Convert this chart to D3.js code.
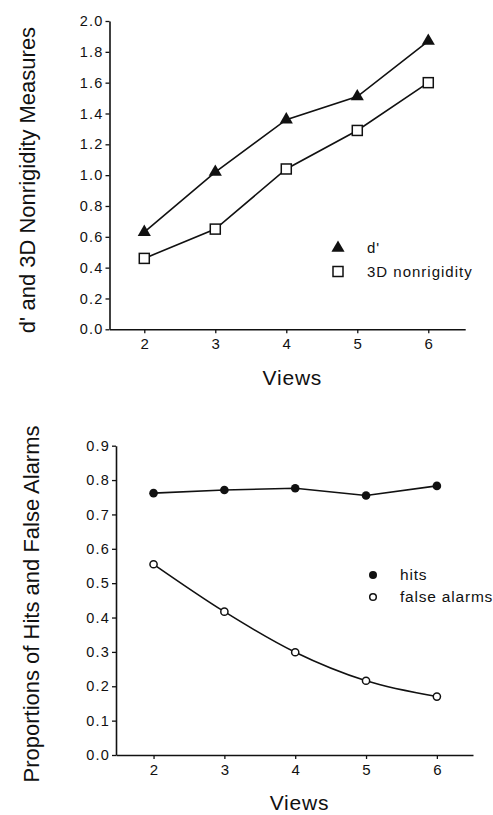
<!DOCTYPE html>
<html>
<head>
<meta charset="utf-8">
<script src="https://cdn.jsdelivr.net/npm/d3@7"></script>
<style>
  html, body { margin: 0; padding: 0; background: #fff; }
  svg { display: block; }
  text { font-family: "Liberation Sans", Arial, Helvetica, sans-serif; fill: #111; }
</style>
</head>
<body>
<svg id="chart" width="493" height="815"></svg>
<script>
// ---- Data ----
const views = [2, 3, 4, 5, 6];
const dPrime = [0.63, 1.02, 1.36, 1.51, 1.87];
const nonrigidity = [0.46, 0.65, 1.04, 1.29, 1.60];
const hits = [0.762, 0.771, 0.776, 0.755, 0.783];
const falseAlarms = [0.555, 0.417, 0.299, 0.216, 0.170];
const topYTicks = [0.0, 0.2, 0.4, 0.6, 0.8, 1.0, 1.2, 1.4, 1.6, 1.8, 2.0];
const botYTicks = [0.0, 0.1, 0.2, 0.3, 0.4, 0.5, 0.6, 0.7, 0.8, 0.9];
const xTicks = [2, 3, 4, 5, 6];

const svg = d3.select("#chart");
const ink = "#111";

function drawPanel(cfg) {
  const g = svg.append("g");
  const x = d3.scaleLinear().domain(cfg.xDomain).range(cfg.xRange);
  const y = d3.scaleLinear().domain(cfg.yDomain).range(cfg.yRange);

  // y axis
  const yAxis = d3.axisLeft(y).tickValues(cfg.yTicks).tickFormat(d3.format(".1f"))
    .tickSizeInner(4).tickSizeOuter(0).tickPadding(2);
  const ya = g.append("g").attr("transform", `translate(${cfg.xRange[0]},0)`).call(yAxis);
  ya.select(".domain").attr("stroke", ink).attr("stroke-width", 1.6);
  ya.selectAll(".tick line").attr("stroke", ink).attr("stroke-width", 1.3);
  ya.selectAll(".tick text").attr("font-size", 14.5).attr("letter-spacing", "1.2px")
    .attr("fill", ink).attr("font-family", "Liberation Sans, Arial, sans-serif");

  // x axis
  const xAxis = d3.axisBottom(x).tickValues(cfg.xTicks).tickFormat(d3.format("d"))
    .tickSizeInner(4).tickSizeOuter(0).tickPadding(5);
  const xa = g.append("g").attr("transform", `translate(0,${cfg.yRange[0]})`).call(xAxis);
  xa.select(".domain").attr("stroke", ink).attr("stroke-width", 1.6);
  xa.selectAll(".tick line").attr("stroke", ink).attr("stroke-width", 1.3);
  xa.selectAll(".tick text").attr("font-size", 15).attr("fill", ink)
    .attr("font-family", "Liberation Sans, Arial, sans-serif");

  // x title
  g.append("text").attr("x", (cfg.xRange[0] + cfg.xRange[1]) / 2 + 5).attr("y", cfg.xTitleY)
    .attr("text-anchor", "middle").attr("font-size", 21).attr("letter-spacing", "0.8px")
    .text("Views");

  // y title
  g.append("text")
    .attr("transform", `translate(${cfg.yTitleX},${cfg.yTitleCenter}) rotate(-90)`)
    .attr("text-anchor", "middle").attr("font-size", 22)
    .text(cfg.yTitle);

  return { g, x, y };
}

// ---- Top panel ----
const topP = drawPanel({
  xDomain: [1.51, 6.52], xRange: [109.5, 465.2],
  yDomain: [0, 2.0], yRange: [329.3, 21],
  yTicks: topYTicks, xTicks: xTicks,
  xTitleY: 385, yTitleX: 35, yTitleCenter: 180,
  yTitle: "d' and 3D Nonrigidity Measures"
});

const lineT = d3.line().x((d, i) => topP.x(views[i])).y(d => topP.y(d));
topP.g.append("path").datum(dPrime).attr("d", lineT).attr("fill", "none")
  .attr("stroke", ink).attr("stroke-width", 1.6);
topP.g.append("path").datum(nonrigidity).attr("d", lineT).attr("fill", "none")
  .attr("stroke", ink).attr("stroke-width", 1.6);

const tri = d3.symbol().type(d3.symbolTriangle).size(75);
topP.g.selectAll(".tri").data(dPrime).join("path")
  .attr("transform", (d, i) => `translate(${topP.x(views[i])},${topP.y(d)})`)
  .attr("d", tri).attr("fill", ink);
topP.g.selectAll(".sq").data(nonrigidity).join("rect")
  .attr("x", (d, i) => topP.x(views[i]) - 5).attr("y", d => topP.y(d) - 5)
  .attr("width", 10).attr("height", 10)
  .attr("fill", "#fff").attr("stroke", ink).attr("stroke-width", 1.5);

// top legend
topP.g.append("path").attr("transform", "translate(338,248)").attr("d", tri).attr("fill", ink);
topP.g.append("rect").attr("x", 333).attr("y", 266.5).attr("width", 10).attr("height", 10)
  .attr("fill", "#fff").attr("stroke", ink).attr("stroke-width", 1.5);
topP.g.append("text").attr("x", 367).attr("y", 253).attr("font-size", 15).attr("letter-spacing", "1px").text("d'");
topP.g.append("text").attr("x", 367).attr("y", 277).attr("font-size", 15).attr("letter-spacing", "1px").text("3D nonrigidity");

// ---- Bottom panel ----
const botP = drawPanel({
  xDomain: [1.47, 6.51], xRange: [116, 473],
  yDomain: [0, 0.9], yRange: [755, 445.7],
  yTicks: botYTicks, xTicks: xTicks,
  xTitleY: 810, yTitleX: 39, yTitleCenter: 604,
  yTitle: "Proportions of Hits and False Alarms"
});

const lineB = d3.line().x((d, i) => botP.x(views[i])).y(d => botP.y(d));
const curveB = d3.line().x((d, i) => botP.x(views[i])).y(d => botP.y(d)).curve(d3.curveMonotoneX);
botP.g.append("path").datum(hits).attr("d", lineB).attr("fill", "none")
  .attr("stroke", ink).attr("stroke-width", 1.6);
botP.g.append("path").datum(falseAlarms).attr("d", curveB).attr("fill", "none")
  .attr("stroke", ink).attr("stroke-width", 1.6);

botP.g.selectAll(".hit").data(hits).join("circle")
  .attr("cx", (d, i) => botP.x(views[i])).attr("cy", d => botP.y(d)).attr("r", 4.3)
  .attr("fill", ink);
botP.g.selectAll(".fa").data(falseAlarms).join("circle")
  .attr("cx", (d, i) => botP.x(views[i])).attr("cy", d => botP.y(d)).attr("r", 3.6)
  .attr("fill", "#fff").attr("stroke", ink).attr("stroke-width", 1.5);

// bottom legend
botP.g.append("circle").attr("cx", 373).attr("cy", 575).attr("r", 4).attr("fill", ink);
botP.g.append("circle").attr("cx", 373).attr("cy", 597).attr("r", 3.3)
  .attr("fill", "#fff").attr("stroke", ink).attr("stroke-width", 1.5);
botP.g.append("text").attr("x", 400).attr("y", 580).attr("font-size", 15.5).attr("letter-spacing", "0.8px").text("hits");
botP.g.append("text").attr("x", 400).attr("y", 602).attr("font-size", 15.5).attr("letter-spacing", "0.8px").text("false alarms");
</script>
</body>
</html>
